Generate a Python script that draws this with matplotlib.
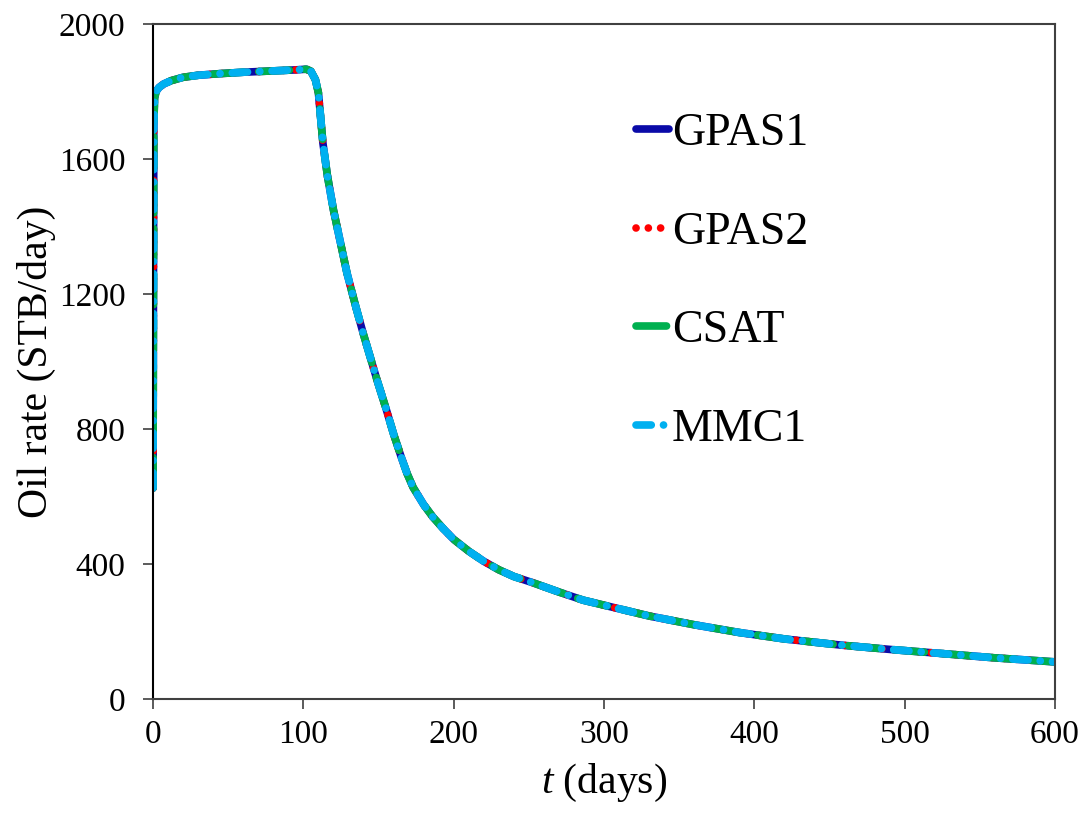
import matplotlib
matplotlib.use('Agg')
import matplotlib.pyplot as plt

plt.rcParams['font.family'] = ['Liberation Serif', 'DejaVu Serif']
plt.rcParams['mathtext.fontset'] = 'custom'
plt.rcParams['mathtext.rm'] = 'Liberation Serif'
plt.rcParams['mathtext.it'] = 'Liberation Serif:italic'

# time (days) and oil rate (STB/day)
days = [0, 0.5, 1, 2, 4, 7, 12, 20, 30, 45, 60, 80, 95, 102, 105, 108, 110,
        113, 116, 120, 125, 129, 135, 140, 149, 155, 160, 165, 169, 173, 180,
        186, 193, 200, 210, 220, 230, 240, 253, 270, 286, 300, 330, 360, 390,
        420, 457, 490, 524, 560, 600]
rate = [625, 1700, 1780, 1800, 1812, 1822, 1832, 1842, 1848, 1853, 1857, 1861,
        1864, 1866, 1860, 1835, 1796, 1647, 1550, 1449, 1345, 1262, 1160, 1080,
        945, 860, 785, 718, 668, 627, 576, 540, 505, 473, 438, 408, 383, 363,
        344, 317, 293, 278, 246, 220, 197, 178, 160, 147, 135, 122, 110]

series = ['GPAS1', 'GPAS2', 'CSAT', 'MMC1']
colors = ['#0A0AA8', '#FF0000', '#00B050', '#00B0F0']
dashes = [None, (0.01, 1.6), (4.0, 2.0), (2.0, 1.6, 0.01, 1.6)]

fig = plt.figure(figsize=(10.87, 8.15), dpi=100)
ax = fig.add_axes([0.1408, 0.1423, 0.8298, 0.8283])

for name, c, d in zip(series, colors, dashes):
    line, = ax.plot(days, rate, color=c, lw=5.5, label=name,
                    solid_capstyle='round', dash_capstyle='round')
    if d is not None:
        line.set_dashes(d)

ax.set_xlim(0, 600)
ax.set_ylim(0, 2000)
ax.set_xticks(range(0, 601, 100))
ax.set_yticks(range(0, 2001, 400))
ax.tick_params(axis='both', direction='out', length=7, width=1.2,
               color='#404040', labelsize=24)
ax.tick_params(axis='y', pad=13)
ax.tick_params(axis='x', pad=8)
for s in ax.spines.values():
    s.set_color('#404040')
    s.set_linewidth(1.5)
ax.spines['left'].set_color('black')

ax.set_xlabel('$t$ (days)', fontsize=30, labelpad=8)
ax.set_ylabel('Oil rate (STB/day)', fontsize=30, labelpad=2)

ax.legend(loc='center', bbox_to_anchor=(0.631, 0.618), frameon=False,
          fontsize=33, handlelength=0.7, handletextpad=0.07,
          labelspacing=1.22)

plt.savefig('out.png', dpi=100)
